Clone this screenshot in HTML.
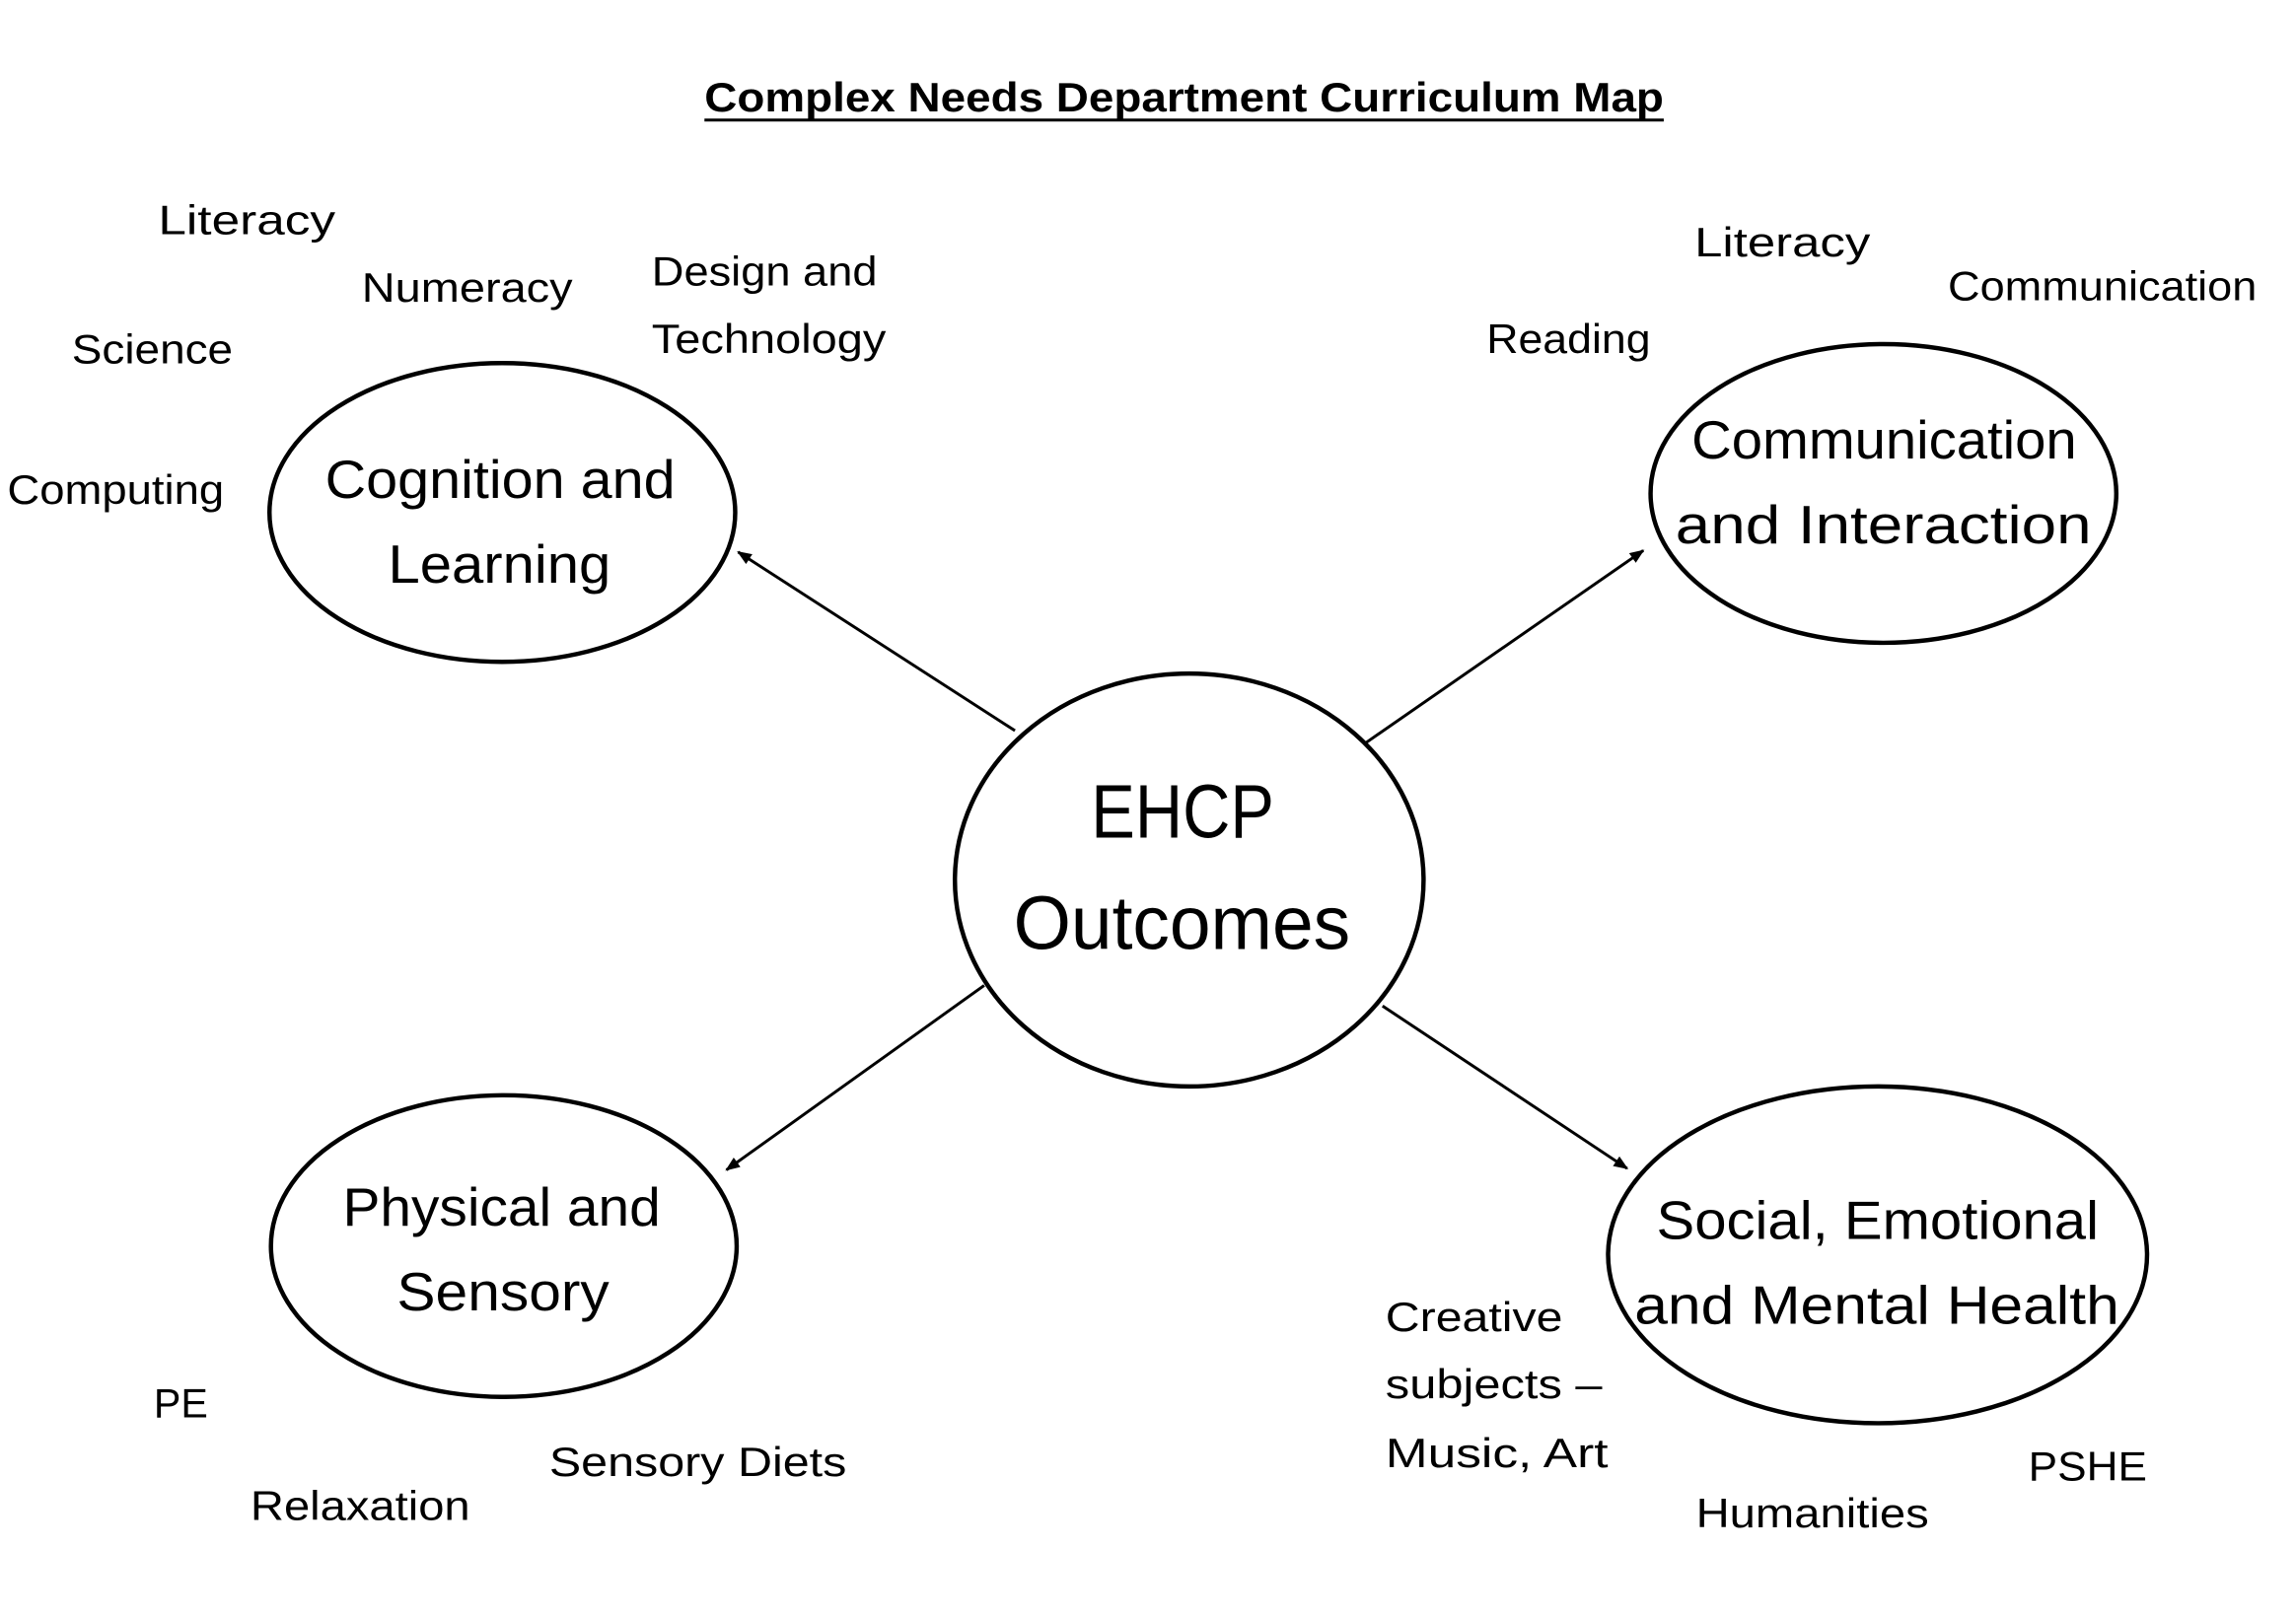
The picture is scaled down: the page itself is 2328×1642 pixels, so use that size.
<!DOCTYPE html>
<html><head><meta charset="utf-8"><style>
html,body{margin:0;padding:0;background:#fff;}
svg{display:block;}
text{font-family:"Liberation Sans",sans-serif;fill:#000;}
</style></head><body>
<svg width="2328" height="1642" viewBox="0 0 1567.7 1105.7" preserveAspectRatio="none" xmlns="http://www.w3.org/2000/svg">
<defs><marker id="a" markerWidth="10" markerHeight="8" refX="9" refY="4" orient="auto" markerUnits="userSpaceOnUse"><path d="M0,0 L10,4 L0,8 z" fill="#000"/></marker></defs>
<text x="481" y="76" font-size="28" font-weight="bold" textLength="655" lengthAdjust="spacingAndGlyphs">Complex Needs Department Curriculum Map</text>
<line x1="481" y1="82" x2="1136" y2="82" stroke="#000" stroke-width="2"/>
<g fill="none" stroke="#000" stroke-width="3">
<ellipse cx="343" cy="350" rx="159" ry="102"/>
<ellipse cx="1286" cy="337" rx="159" ry="102"/>
<ellipse cx="812" cy="601" rx="160" ry="141"/>
<ellipse cx="344" cy="851" rx="159" ry="103"/>
<ellipse cx="1282" cy="857" rx="184" ry="115"/>
</g>
<g stroke="#000" stroke-width="2" marker-end="url(#a)">
<line x1="693" y1="499" x2="504" y2="377"/>
<line x1="933" y1="507" x2="1122" y2="376"/>
<line x1="672" y1="673" x2="496" y2="799"/>
<line x1="944" y1="687" x2="1111" y2="798"/>
</g>
<g font-size="37">
<text x="222" y="340" textLength="239" lengthAdjust="spacingAndGlyphs">Cognition and</text>
<text x="265" y="398" textLength="152" lengthAdjust="spacingAndGlyphs">Learning</text>
<text x="1155" y="313" textLength="263" lengthAdjust="spacingAndGlyphs">Communication</text>
<text x="1144" y="371" textLength="284" lengthAdjust="spacingAndGlyphs">and Interaction</text>
<text x="234" y="837" textLength="217" lengthAdjust="spacingAndGlyphs">Physical and</text>
<text x="271" y="895" textLength="145" lengthAdjust="spacingAndGlyphs">Sensory</text>
<text x="1131" y="846" textLength="302" lengthAdjust="spacingAndGlyphs">Social, Emotional</text>
<text x="1116" y="904" textLength="331" lengthAdjust="spacingAndGlyphs">and Mental Health</text>
</g>
<text x="745" y="572" font-size="52" textLength="125" lengthAdjust="spacingAndGlyphs">EHCP</text>
<text x="692" y="648" font-size="52" textLength="230" lengthAdjust="spacingAndGlyphs">Outcomes</text>
<g font-size="28">
<text x="108" y="160" textLength="121" lengthAdjust="spacingAndGlyphs">Literacy</text>
<text x="247" y="206" textLength="144" lengthAdjust="spacingAndGlyphs">Numeracy</text>
<text x="445" y="195" textLength="154" lengthAdjust="spacingAndGlyphs">Design and</text>
<text x="445" y="241" textLength="160" lengthAdjust="spacingAndGlyphs">Technology</text>
<text x="49" y="248" textLength="110" lengthAdjust="spacingAndGlyphs">Science</text>
<text x="5" y="344" textLength="148" lengthAdjust="spacingAndGlyphs">Computing</text>
<text x="1157" y="175" textLength="120" lengthAdjust="spacingAndGlyphs">Literacy</text>
<text x="1330" y="205" textLength="211" lengthAdjust="spacingAndGlyphs">Communication</text>
<text x="1015" y="241" textLength="112" lengthAdjust="spacingAndGlyphs">Reading</text>
<text x="105" y="968" textLength="37" lengthAdjust="spacingAndGlyphs">PE</text>
<text x="171" y="1038" textLength="150" lengthAdjust="spacingAndGlyphs">Relaxation</text>
<text x="375" y="1008" textLength="203" lengthAdjust="spacingAndGlyphs">Sensory Diets</text>
<text x="946" y="909" textLength="121" lengthAdjust="spacingAndGlyphs">Creative</text>
<text x="946" y="955" textLength="148" lengthAdjust="spacingAndGlyphs">subjects –</text>
<text x="946" y="1002" textLength="152" lengthAdjust="spacingAndGlyphs">Music, Art</text>
<text x="1158" y="1043" textLength="159" lengthAdjust="spacingAndGlyphs">Humanities</text>
<text x="1385" y="1011" textLength="81" lengthAdjust="spacingAndGlyphs">PSHE</text>
</g>
</svg>
</body></html>
